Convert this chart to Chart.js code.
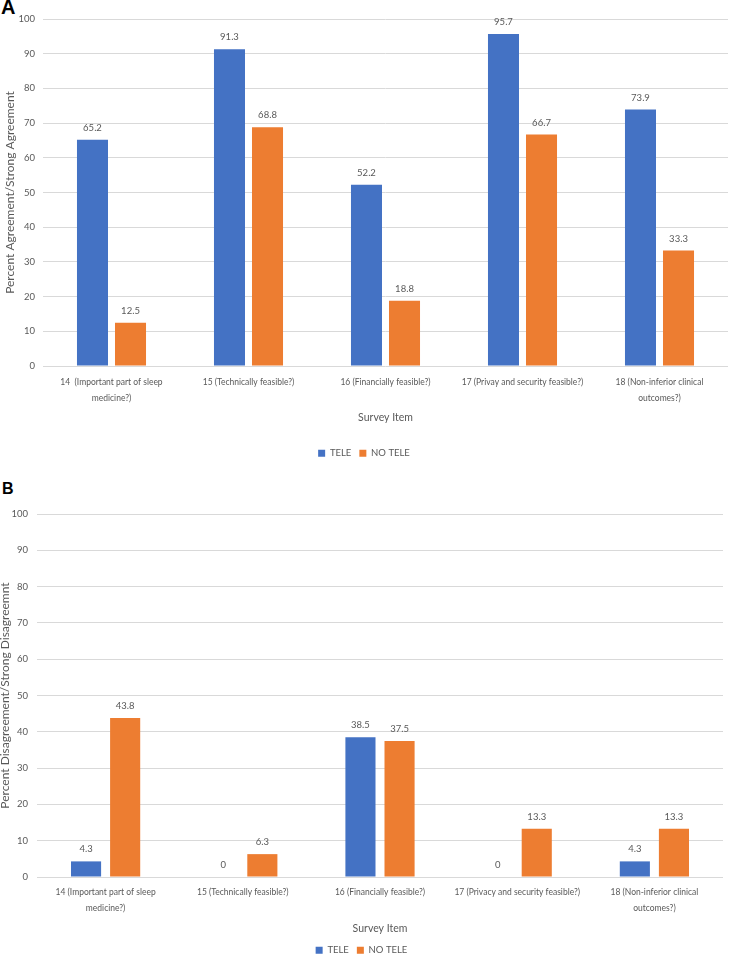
<!DOCTYPE html>
<html>
<head>
<meta charset="utf-8">
<script src="https://cdn.jsdelivr.net/npm/chart.js@4.4.1/dist/chart.umd.min.js"></script>
<style>
  html, body { margin: 0; padding: 0; background: #fff; overflow: hidden; }
  body { width: 729px; height: 956px; position: relative; }
  .panel { position: absolute; left: 0; width: 729px; }
  .tag { position: absolute; font-family: "Liberation Sans", Arial, sans-serif; font-weight: bold; color: #000; }
</style>
</head>
<body>
<div class="tag" style="left:1px; top:-3px; font-size:20px; line-height:20px;">A</div>
<div class="panel" style="top:0; height:468px;"><canvas id="chartA"></canvas></div>
<div class="tag" style="left:2px; top:481px; font-size:16px; line-height:16px;">B</div>
<div class="panel" style="top:470px; height:495px;"><canvas id="chartB"></canvas></div>
<script>
// shared series names and y ticks
var series = ["TELE", "NO TELE"];
var yTicks = [0, 10, 20, 30, 40, 50, 60, 70, 80, 90, 100];

// panel A - agreement
var labelsA = [
  ["14  (Important part of sleep", "medicine?)"],
  "15 (Technically feasible?)",
  "16 (Financially feasible?)",
  "17 (Privay and security feasible?)",
  ["18 (Non-inferior clinical", "outcomes?)"]
];
var teleA   = [65.2, 91.3, 52.2, 95.7, 73.9];
var noTeleA = [12.5, 68.8, 18.8, 66.7, 33.3];

// panel B - disagreement
var labelsB = [
  ["14 (Important part of sleep", "medicine?)"],
  "15 (Technically feasible?)",
  "16 (Financially feasible?)",
  "17 (Privacy and security feasible?)",
  ["18 (Non-inferior clinical", "outcomes?)"]
];
var teleB   = [4.3, 0, 38.5, 0, 4.3];
var noTeleB = [43.8, 6.3, 37.5, 13.3, 13.3];

var txt = "#595959";
var font = "Lato";

// value labels above each bar
var barValues = {
  id: "barValues",
  afterDatasetsDraw: function(chart) {
    var ctx = chart.ctx;
    ctx.save();
    ctx.font = "9.5px " + font;
    ctx.fillStyle = txt;
    ctx.textAlign = "center";
    ctx.textBaseline = "middle";
    chart.data.datasets.forEach(function(ds, i) {
      chart.getDatasetMeta(i).data.forEach(function(bar, j) {
        ctx.fillText(String(ds.data[j]), bar.x, bar.y - 12);
      });
    });
    ctx.restore();
  }
};

function makeChart(id, labels, tele, noTele, yTitle, o) {
  return new Chart(document.getElementById(id), {
    type: "bar",
    data: {
      labels: labels,
      datasets: [
        { label: series[0], data: tele, backgroundColor: "#4472C4",
          categoryPercentage: o.cp, barPercentage: o.bp },
        { label: series[1], data: noTele, backgroundColor: "#ED7D31",
          categoryPercentage: o.cp, barPercentage: o.bp }
      ]
    },
    options: {
      responsive: true,
      maintainAspectRatio: false,
      animation: false,
      layout: { padding: { top: o.top, right: o.right, left: 0, bottom: 0 } },
      plugins: {
        legend: {
          position: "bottom",
          labels: { boxWidth: 7, boxHeight: 7, padding: 8, color: txt,
                    font: { family: font, size: 9.5 } }
        },
        tooltip: { enabled: false }
      },
      scales: {
        x: {
          grid: { display: false, drawTicks: false },
          border: { display: false },
          ticks: { color: txt, autoSkip: false, maxRotation: 0, padding: o.xPad,
                   font: { family: font, size: 8.5, lineHeight: 1.8 } },
          title: { display: true, text: "Survey Item", color: txt,
                   font: { family: font, size: 10.5 },
                   padding: { top: 0, bottom: o.titleBottom } },
          afterFit: function(s) { s.height = o.xH; }
        },
        y: {
          min: 0, max: 100,
          afterBuildTicks: function(s) { s.ticks = yTicks.map(function(v) { return { value: v }; }); },
          grid: { color: "#D9D9D9", lineWidth: 1, drawTicks: false },
          border: { display: false },
          ticks: { color: txt, padding: o.yPad, font: { family: font, size: 9.5 } },
          title: { display: true, text: yTitle, color: txt,
                   font: { family: font, size: 12, lineHeight: 1 },
                   padding: { top: o.yTitlePad, bottom: 0 } },
          afterFit: function(s) { s.width = o.yW; }
        }
      }
    },
    plugins: [barValues]
  });
}

makeChart("chartA", labelsA, teleA, noTeleA, "Percent Agreement/Strong Agreement",
  { cp: 0.555, bp: 0.816, top: 19, right: 1, xPad: 9, xH: 74.5, titleBottom: 17,
    yPad: 8, yW: 43, yTitlePad: 4 });

makeChart("chartB", labelsB, teleB, noTeleB, "Percent Disagreement/Strong Disagreemnt",
  { cp: 0.57, bp: 0.77, top: 44, right: 6, xPad: 8, xH: 60.5, titleBottom: 3,
    yPad: 9, yW: 37, yTitlePad: -1 });
</script>
</body>
</html>
